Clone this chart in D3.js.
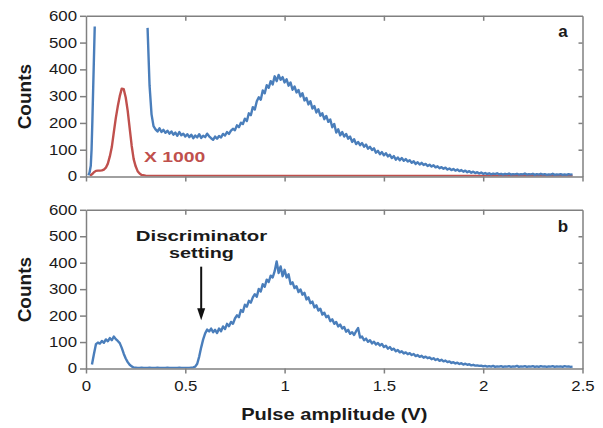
<!DOCTYPE html>
<html>
<head>
<meta charset="utf-8">
<script src="https://cdn.jsdelivr.net/npm/d3@7"></script>
<style>
  html, body { margin: 0; padding: 0; background: #fff; }
  svg { display: block; }
  text { font-family: "Liberation Sans", Arial, sans-serif; }
</style>
</head>
<body>
<svg id="chart" width="603" height="428"></svg>
<script>
// ---------------- DATA ----------------
const step = 0.01;
const xTicks = [0, 0.5, 1, 1.5, 2, 2.5];
const xTickLabels = ["0", "0.5", "1", "1.5", "2", "2.5"];
const yTicks = [0, 100, 200, 300, 400, 500, 600];

// panel a: blue, low-amplitude spike (leaves the plot at top)
const topSpikeX = [0.012, 0.018, 0.024, 0.028, 0.032, 0.037, 0.044];
const topSpikeY = [5, 15, 40, 100, 205, 355, 560];

// panel a: blue main spectrum, starting at 0.31 V, step 0.01 V
const topMainStart = 0.31;
const topMain = [
  555, 340, 232, 188, 176, 168, 180, 166, 174, 163,
  171, 160, 168, 156, 164, 152, 166, 154, 160, 149,
  158, 147, 156, 143, 153, 146, 158, 144, 152, 147,
  160, 150, 143, 137, 149, 141, 151, 146, 159, 153,
  166, 159, 171, 178, 173, 191, 184, 201, 196, 216,
  207, 236, 229, 259, 250, 281, 296, 287, 321, 311,
  341, 331, 356, 344, 374, 356, 379, 361, 371, 351,
  363, 339, 351, 324, 336, 314, 323, 299, 311, 284,
  293, 269, 281, 254, 263, 239, 251, 227, 236, 214,
  226, 204, 213, 184, 196, 164, 176, 154, 166, 149,
  159, 141, 149, 129, 139, 121, 129, 117, 125, 111,
  119, 104, 111, 99, 105, 89, 96, 83, 91, 79,
  87, 75, 81, 69, 76, 63, 71, 61, 69, 59,
  65, 56, 61, 51, 57, 47, 53, 45, 51, 43,
  47, 39, 44, 37, 42, 34, 38, 31, 35, 29,
  33, 26, 30, 24, 28, 22, 26, 20, 24, 18,
  22, 16, 20, 14, 18, 13, 16, 11, 15, 10,
  13, 9, 12, 8, 11, 9, 12, 8, 10, 7,
  10, 8, 11, 7, 9, 8, 10, 7, 9, 8,
  11, 7, 9, 8, 10, 6, 9, 7, 10, 7,
  9, 6, 8, 7, 10, 6, 8, 7, 9, 6,
  8, 6, 9, 7, 8
];

// panel a: red spectrum (x 1000)
const redX = [0.02, 0.03, 0.04, 0.05, 0.06, 0.07, 0.08, 0.09, 0.10, 0.11,
              0.12, 0.13, 0.14, 0.15, 0.16, 0.17, 0.18, 0.19, 0.20, 0.21,
              0.22, 0.23, 0.24, 0.25, 0.26, 0.27, 0.28, 0.30, 0.35, 2.45];
const redY = [3, 8, 16, 21, 22, 22, 23, 26, 33, 48,
              75, 110, 165, 218, 262, 300, 328, 326, 295, 245,
              180, 115, 65, 38, 20, 11, 6, 3, 2, 2];

// panel b: blue spectrum with discriminator, starting at 0.03 V, step 0.01 V
const botStart = 0.03;
const bottom = [
  15, 55, 92, 98, 94, 104, 97, 110, 103, 115,
  107, 121, 111, 104, 96, 78, 56, 38, 24, 14,
  8, 4, 3, 2, 2, 3, 2, 2, 2, 3,
  2, 2, 2, 3, 2, 2, 2, 2, 3, 2,
  2, 2, 2, 2, 3, 2, 2, 2, 2, 2,
  3, 4, 7, 18, 45, 80, 110, 133, 147, 140,
  151, 137, 146, 134, 151, 141, 159, 149, 169, 160,
  176, 169, 189, 201, 194, 221, 214, 241, 234, 256,
  249, 269, 281, 271, 301, 291, 319, 309, 336, 327,
  351, 344, 368, 405, 361, 386, 349, 373, 344, 356,
  319, 326, 304, 311, 289, 299, 279, 286, 261, 269,
  247, 253, 231, 239, 219, 226, 204, 211, 194, 199,
  179, 186, 169, 176, 159, 166, 151, 157, 139, 146,
  131, 137, 127, 141, 153, 117, 121, 107, 113, 101,
  107, 95, 101, 91, 96, 87, 93, 81, 86, 75,
  81, 71, 75, 65, 70, 61, 65, 57, 61, 54,
  58, 51, 55, 47, 51, 44, 48, 41, 45, 39,
  42, 35, 39, 32, 36, 29, 33, 27, 30, 24,
  27, 21, 24, 19, 22, 17, 20, 15, 18, 14,
  16, 12, 14, 11, 12, 10, 11, 8, 10, 7,
  9, 7, 10, 6, 8, 7, 9, 6, 8, 7,
  9, 6, 8, 7, 10, 6, 8, 7, 9, 6,
  8, 7, 9, 6, 8, 6, 9, 7, 8, 6,
  8, 7, 9, 6, 8, 7, 8, 6, 9, 7,
  8, 6, 7
];

// annotation (data coords of panel b)
const arrowX = 0.58, arrowFromY = 385, arrowToY = 182;

// ---------------- LAYOUT ----------------
const svg = d3.select("#chart");
const X0 = 86, X1 = 582.5;
const panels = [
  { id: "a", top: 15.8, bottom: 176.5, labels: false },
  { id: "b", top: 209.8, bottom: 368.5, labels: true }
];
const blue = "#4a7ebb", red = "#c0504d", axisCol = "#808080", textCol = "#1a1a1a";

const x = d3.scaleLinear().domain([0, 2.5]).range([X0, X1]);

const seq = (start, arr) => arr.map((v, i) => ({ x: +(start + i * step).toFixed(3), y: v }));
const zip = (xs, ys) => xs.map((v, i) => ({ x: v, y: ys[i] }));

panels.forEach(p => {
  const y = d3.scaleLinear().domain([0, 600]).range([p.bottom, p.top]);
  p.y = y;
  const g = svg.append("g");

  const clipId = "clip-" + p.id;
  svg.append("clipPath").attr("id", clipId)
    .append("rect").attr("x", X0).attr("y", p.top - 2).attr("width", X1 - X0).attr("height", p.bottom - p.top + 2);

  const line = d3.line().x(d => x(d.x)).y(d => y(d.y));
  const lg = g.append("g").attr("clip-path", `url(#${clipId})`);

  if (p.id === "a") {
    lg.append("path").datum(zip(redX, redY)).attr("d", line)
      .attr("fill", "none").attr("stroke", red).attr("stroke-width", 2.4).attr("stroke-linejoin", "round");
    lg.append("path").datum(zip(topSpikeX, topSpikeY)).attr("d", line)
      .attr("fill", "none").attr("stroke", blue).attr("stroke-width", 2.4).attr("stroke-linejoin", "round");
    lg.append("path").datum(seq(topMainStart, topMain)).attr("d", line)
      .attr("fill", "none").attr("stroke", blue).attr("stroke-width", 2.4).attr("stroke-linejoin", "round");
  } else {
    lg.append("path").datum(seq(botStart, bottom)).attr("d", line)
      .attr("fill", "none").attr("stroke", blue).attr("stroke-width", 2.4).attr("stroke-linejoin", "round");
  }

  // axes
  const styleAxis = sel => {
    sel.selectAll("path.domain").attr("stroke", axisCol).attr("stroke-width", 1.5);
    sel.selectAll(".tick line").attr("stroke", axisCol).attr("stroke-width", 1.5);
  };
  const left = g.append("g").attr("transform", `translate(${X0},0)`)
    .call(d3.axisLeft(y).tickValues(yTicks).tickSize(6).tickSizeOuter(0).tickPadding(3));
  styleAxis(left);
  left.selectAll(".tick text")
    .attr("fill", textCol).attr("font-size", 14).attr("font-family", null)
    .attr("x", -9 / 1.2).attr("transform", "scale(1.2,1)");

  const right = g.append("g").attr("transform", `translate(${X1},0)`)
    .call(d3.axisRight(y).tickValues(yTicks.slice(1, -1)).tickSize(-4).tickSizeOuter(0).tickFormat(""));
  styleAxis(right);

  const topAx = g.append("g").attr("transform", `translate(0,${p.top})`)
    .call(d3.axisTop(x).tickValues(xTicks.slice(1, -1)).tickSize(-5).tickSizeOuter(0).tickFormat(""));
  styleAxis(topAx);

  const bot = g.append("g").attr("transform", `translate(0,${p.bottom})`)
    .call(d3.axisBottom(x).tickValues(xTicks).tickSize(5).tickSizeOuter(0).tickPadding(7)
      .tickFormat(p.labels ? ((d, i) => xTickLabels[i]) : ""));
  styleAxis(bot);
  bot.selectAll(".tick text")
    .attr("fill", textCol).attr("font-size", 15).attr("font-family", null)
    .attr("transform", "scale(1.12,1)");

  // Counts label
  svg.append("text")
    .attr("transform", `translate(30.5,${(p.top + p.bottom) / 2 + 0.5}) rotate(-90)`)
    .attr("text-anchor", "middle").attr("font-weight", "bold").attr("font-size", 19)
    .attr("fill", textCol).text("Counts");

  // panel letter
  svg.append("text")
    .attr("x", 563).attr("y", p.top + (p.id === "a" ? 21.5 : 22))
    .attr("text-anchor", "middle").attr("font-weight", "bold").attr("font-size", 17)
    .attr("fill", textCol).text(p.id);
});

// X 1000 label
svg.append("text")
  .attr("transform", "translate(144,162) scale(1.25,1)")
  .attr("font-weight", "bold").attr("font-size", 15.5).attr("fill", red).text("X 1000");

// Discriminator annotation
const yb = panels[1].y;
svg.append("text")
  .attr("transform", "translate(201.5,240.5) scale(1.36,1)")
  .attr("text-anchor", "middle").attr("font-weight", "bold").attr("font-size", 15)
  .attr("fill", textCol).text("Discriminator");
svg.append("text")
  .attr("transform", "translate(201.5,257.5) scale(1.32,1)")
  .attr("text-anchor", "middle").attr("font-weight", "bold").attr("font-size", 15)
  .attr("fill", textCol).text("setting");

const ax = x(arrowX), ay0 = yb(arrowFromY), ay1 = yb(arrowToY);
svg.append("line").attr("x1", ax).attr("x2", ax).attr("y1", ay0).attr("y2", ay1 - 8)
  .attr("stroke", "#111").attr("stroke-width", 2);
svg.append("path")
  .attr("d", `M${ax - 4},${ay1 - 12} L${ax + 4},${ay1 - 12} L${ax},${ay1} Z`)
  .attr("fill", "#111");

// X axis title
svg.append("text")
  .attr("transform", `translate(${(X0 + X1) / 2},420) scale(1.24,1)`)
  .attr("text-anchor", "middle").attr("font-weight", "bold").attr("font-size", 16.2)
  .attr("fill", textCol).text("Pulse amplitude (V)");
</script>
</body>
</html>
